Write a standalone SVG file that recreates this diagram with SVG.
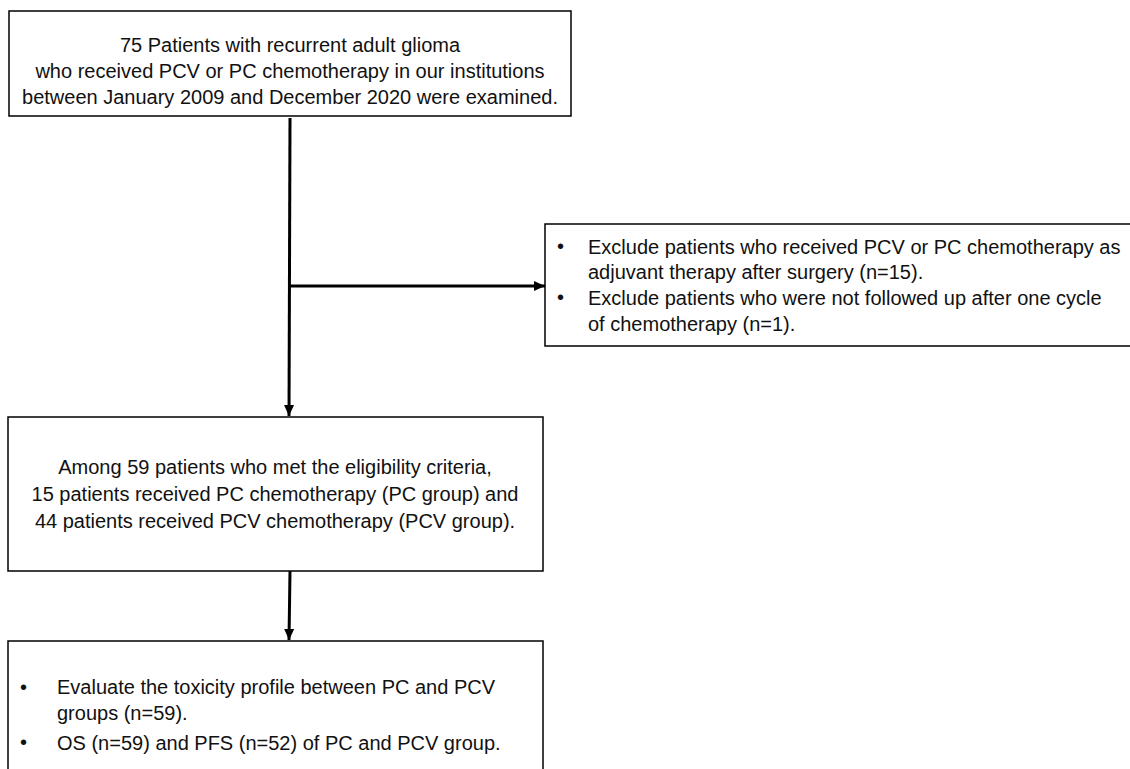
<svg xmlns="http://www.w3.org/2000/svg" width="1130" height="769" viewBox="0 0 1130 769">
<defs>
<style>
.box{fill:#fff;stroke:#000;stroke-width:1.5}
.t{font-family:"Liberation Sans",Arial,sans-serif;font-size:20px;fill:#111}
.c{text-anchor:middle}
.ln{stroke:#000;stroke-width:3;fill:none}
</style>
<marker id="ah" markerWidth="12" markerHeight="12" refX="11" refY="6" orient="auto" markerUnits="userSpaceOnUse">
<path d="M0,1 L11,6 L0,11 Z" fill="#000"/>
</marker>
</defs>
<rect width="1130" height="769" fill="#fff"/>
<g id="connectors">
<line class="ln" x1="290" y1="118" x2="289" y2="416" marker-end="url(#ah)"/>
<line class="ln" x1="290" y1="286" x2="545" y2="286" marker-end="url(#ah)"/>
<line class="ln" x1="290" y1="571" x2="289" y2="640" marker-end="url(#ah)"/>
</g>
<g id="n1">
<rect class="box" x="9" y="11" width="562" height="105"/>
<text class="t c" x="290" y="52">75 Patients with recurrent adult glioma</text>
<text class="t c" x="290" y="78">who received PCV or PC chemotherapy in our institutions</text>
<text class="t c" x="290" y="104">between January 2009 and December 2020 were examined.</text>
</g>
<g id="n2">
<rect class="box" x="545" y="224" width="600" height="122"/>
<text class="t" x="557" y="253">•</text>
<text class="t" x="588" y="254">Exclude patients who received PCV or PC chemotherapy as</text>
<text class="t" x="588" y="279">adjuvant therapy after surgery (n=15).</text>
<text class="t" x="557" y="304">•</text>
<text class="t" x="588" y="305">Exclude patients who were not followed up after one cycle</text>
<text class="t" x="588" y="331">of chemotherapy (n=1).</text>
</g>
<g id="n3">
<rect class="box" x="8" y="417" width="535" height="154"/>
<text class="t c" x="275" y="474">Among 59 patients who met the eligibility criteria,</text>
<text class="t c" x="275" y="501">15 patients received PC chemotherapy (PC group) and</text>
<text class="t c" x="275" y="528">44 patients received PCV chemotherapy (PCV group).</text>
</g>
<g id="n4">
<rect class="box" x="8" y="641" width="535" height="140"/>
<text class="t" x="20" y="694">•</text>
<text class="t" x="57" y="694">Evaluate the toxicity profile between PC and PCV</text>
<text class="t" x="57" y="720">groups (n=59).</text>
<text class="t" x="20" y="749">•</text>
<text class="t" x="57" y="750">OS (n=59) and PFS (n=52) of PC and PCV group.</text>
</g>
</svg>
